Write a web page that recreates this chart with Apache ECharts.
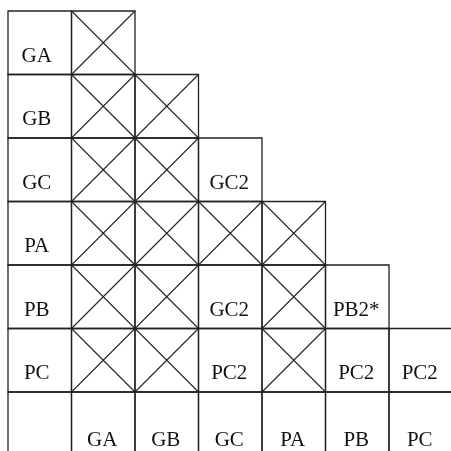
<!DOCTYPE html>
<html>
<head>
<meta charset="utf-8">
<script src="https://cdn.jsdelivr.net/npm/echarts@6/dist/echarts.min.js"></script>
<style>
  html, body { margin: 0; padding: 0; background: #fff; }
  #chart { width: 451px; height: 451px; }
</style>
</head>
<body>
<div id="chart"></div>
<script>
// row / column labels of the table
var rowLabels = ["GA", "GB", "GC", "PA", "PB", "PC"];
var colLabels = ["GA", "GB", "GC", "PA", "PB", "PC"];
// cell contents per row (X = crossed out)
var rowCells = [
  ["X"],
  ["X", "X"],
  ["X", "X", "GC2"],
  ["X", "X", "X", "X"],
  ["X", "X", "GC2", "X", "PB2*"],
  ["X", "X", "PC2", "X", "PC2", "PC2"]
];

// build [col, row, text, kind]
var cells = [];
rowLabels.forEach(function (lab, r) {
  cells.push([0, r, lab, "label"]);
  rowCells[r].forEach(function (v, c) {
    cells.push([c + 1, r, v, v === "X" ? "cross" : "text"]);
  });
});
cells.push([0, rowLabels.length, "", "foot"]);
colLabels.forEach(function (lab, c) {
  cells.push([c + 1, rowLabels.length, lab, "foot"]);
});

var chart = echarts.init(document.getElementById("chart"));

var lineColor = "#222";
// cell size ~63.5px, last row/col run off the page
var cellPx = 63.5;
var gridLeft = 8, gridTop = 11;

chart.setOption({
  animation: false,
  grid: { left: gridLeft, top: gridTop, right: 0, bottom: 0 },
  xAxis: { type: "value", min: 0, max: (451 - gridLeft) / cellPx, show: false },
  yAxis: { type: "value", min: 0, max: (451 - gridTop) / cellPx, inverse: true, show: false },
  series: [
    {
      type: "custom",
      clip: false,
      data: cells,
      renderItem: function (params, api) {
        var x = api.value(0), y = api.value(1);
        var d = cells[params.dataIndex];
        var p0 = api.coord([x, y]);
        var p1 = api.coord([x + 1, y + 1]);
        var w = p1[0] - p0[0], h = p1[1] - p0[1];
        var kids = [{
          type: "rect",
          shape: { x: p0[0], y: p0[1], width: w, height: h },
          style: { fill: null, stroke: lineColor, lineWidth: 1.3 }
        }];
        if (d[3] === "cross") {
          kids.push({
            type: "line",
            shape: { x1: p0[0], y1: p0[1], x2: p1[0], y2: p1[1] },
            style: { stroke: lineColor, lineWidth: 1.1 }
          });
          kids.push({
            type: "line",
            shape: { x1: p1[0], y1: p0[1], x2: p0[0], y2: p1[1] },
            style: { stroke: lineColor, lineWidth: 1.1 }
          });
        } else if (d[2]) {
          kids.push({
            type: "text",
            style: {
              text: d[2],
              x: p0[0] + w / 2 + (d[3] === "label" ? -3 : -1),
              y: p0[1] + h * (d[3] === "foot" ? 0.76 : 0.71),
              align: "center",
              verticalAlign: "middle",
              fontFamily: "Liberation Serif",
              fontSize: 21,
              fill: "#111"
            }
          });
        }
        return { type: "group", children: kids };
      }
    }
  ]
});
</script>
</body>
</html>
